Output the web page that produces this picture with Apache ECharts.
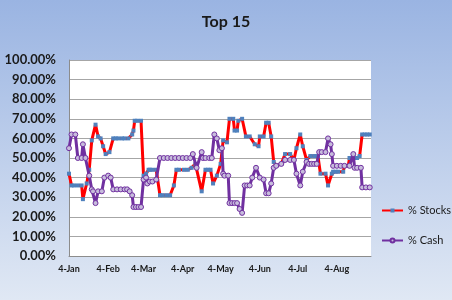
<!DOCTYPE html>
<html>
<head>
<meta charset="utf-8">
<script src="https://cdn.jsdelivr.net/npm/echarts@6/dist/echarts.min.js"></script>
<style>
html,body{margin:0;padding:0;width:452px;height:300px;overflow:hidden;}
#c{width:452px;height:300px;}
</style>
</head>
<body>
<div id="c"></div>
<script>
// ---- data ----
const tickDates  = ['1/4','2/4','3/4','4/4','5/4','6/4','7/4','8/4'];
const tickLabels = ['4-Jan','4-Feb','4-Mar','4-Apr','4-May','4-Jun','4-Jul','4-Aug'];

const stockDates = ['1/4','1/6','1/8','1/11','1/14','1/15','1/18','1/20','1/22','1/25','1/27','1/29','1/31','2/2','2/5','2/8','2/10','2/12','2/15','2/17','2/20','2/23','2/24','2/25','2/27','3/2','3/4','3/6','3/8','3/9','3/11','3/14','3/17','3/19','3/22','3/25','3/28','3/30','4/1','4/5','4/8','4/11','4/14','4/19','4/22','4/24','4/26','4/28','5/1','5/4','5/6','5/9','5/11','5/14','5/15','5/17','5/18','5/21','5/24','5/27','5/31','6/3','6/4','6/7','6/9','6/11','6/13','6/15','6/17','6/21','6/24','6/28','7/1','7/3','7/6','7/8','7/11','7/14','7/17','7/20','7/22','7/26','7/28','7/31','8/1','8/3','8/5','8/9','8/10','8/13','8/14','8/16','8/18','8/20','8/22','8/24','8/26','8/28','8/30'];
const stockVals  = [42,36,36,36,36,29,37,44,59,67,61,60,56,52,53,60,60,60,60,60,60,62,64,69,69,69,41,42,44,44,44,44,31,31,31,31,36,44,44,44,44,45,47,33,44,44,44,37,41,47,59,58,70,70,64,64,69,70,61,61,57,56,61,61,68,68,61,48,46,47,52,52,49,55,62,56,49,51,51,51,42,42,36,42,43,43,43,43,46,46,50,50,50,50,51,62,62,62,62];

const cashDates = ['1/4','1/6','1/9','1/11','1/14','1/15','1/17','1/20','1/22','1/23','1/25','1/27','1/30','2/1','2/4','2/6','2/8','2/11','2/14','2/17','2/19','2/21','2/23','2/24','2/26','2/28','3/2','3/4','3/6','3/7','3/9','3/11','3/14','3/17','3/20','3/23','3/26','3/29','4/1','4/4','4/7','4/10','4/12','4/15','4/19','4/20','4/22','4/25','4/27','4/29','5/1','5/3','5/5','5/6','5/7','5/10','5/11','5/13','5/15','5/17','5/19','5/21','5/23','5/25','5/27','5/29','6/1','6/4','6/7','6/9','6/11','6/13','6/15','6/17','6/21','6/24','6/28','7/1','7/3','7/6','7/8','7/11','7/13','7/15','7/17','7/19','7/21','7/23','7/26','7/28','7/30','7/31','8/1','8/4','8/7','8/10','8/14','8/17','8/18','8/20','8/23','8/24','8/27','8/30'];
const cashVals  = [55,62,62,50,50,57,50,41,34,33,27,33,33,40,41,40,34,34,34,34,34,33,31,25,25,25,25,39,40,37,38,38,39,50,50,50,50,50,50,50,50,50,52,45,53,50,50,50,50,62,60,54,55,42,41,41,27,27,27,27,24,22,36,36,36,40,45,40,39,32,32,37,45,46,47,49,49,49,42,36,43,48,47,47,47,47,53,53,53,60,57,52,46,46,46,46,46,52,45,45,45,35,35,35];

const YEAR = 2010, START = '1/4', END = '8/31';
// ---- helpers ----
function dayOff(s){
  const p = s.split('/').map(Number);
  const q = START.split('/').map(Number);
  return Math.round((Date.UTC(YEAR,p[0]-1,p[1]) - Date.UTC(YEAR,q[0]-1,q[1]))/864e5);
}
const tickOffsets = tickDates.map(dayOff);
const stockData = stockDates.map((d,i)=>[dayOff(d), stockVals[i]]);
const cashData  = cashDates.map((d,i)=>[dayOff(d), cashVals[i]]);

const FONT = 'Lato';
const chart = echarts.init(document.getElementById('c'), null, {renderer:'canvas'});
chart.setOption({
  animation:false,
  backgroundColor:{type:'linear',x:0,y:0,x2:0,y2:1,colorStops:[{offset:0,color:'#9ab4e2'},{offset:1,color:'#e0e8f4'}]},
  title:{text:'Top 15',left:'center',top:9,textStyle:{fontFamily:FONT,fontSize:16,fontWeight:'bold',color:'#1a1a1a'}},
  legend:{orient:'vertical',left:376,top:200,itemWidth:21,itemHeight:5,itemGap:19,
    textStyle:{fontFamily:FONT,fontSize:11,color:'#1a1a1a'},
    data:['% Stocks','% Cash']},
  grid:{left:69,top:60,width:302,height:196,show:true,backgroundColor:'#ffffff',borderWidth:0},
  xAxis:{type:'value',min:0,max:dayOff(END),
    axisLine:{show:true,lineStyle:{color:'#8c8c8c',width:1}},
    axisTick:{show:false},
    splitLine:{show:false},
    axisLabel:{customValues:tickOffsets,margin:9,fontFamily:FONT,fontSize:9,fontWeight:'bold',color:'#1a1a1a',
      formatter:function(v){const i=tickOffsets.indexOf(v);return i>=0?tickLabels[i]:'';}}
  },
  yAxis:{type:'value',min:0,max:100,interval:10,
    axisLine:{show:true,lineStyle:{color:'#8c8c8c',width:1}},
    axisTick:{show:false},
    splitLine:{show:true,lineStyle:{color:'#a6a6a6',width:1}},
    axisLabel:{margin:13,fontFamily:FONT,fontSize:13,fontWeight:'bold',color:'#1a1a1a',
      formatter:function(v){return v.toFixed(2)+'%';}}
  },
  series:[
    {name:'% Stocks',type:'line',data:stockData,symbol:'rect',symbolSize:4,showAllSymbol:true,
     itemStyle:{color:'#4f81bd'},lineStyle:{color:'#ff0000',width:3},emphasis:{disabled:true},z:2},
    {name:'% Cash',type:'line',data:cashData,symbol:'circle',symbolSize:5,showAllSymbol:true,
     itemStyle:{color:'#c7bcdc',borderColor:'#7030a0',borderWidth:1},lineStyle:{color:'#7030a0',width:3},emphasis:{disabled:true},z:3}
  ]
});
</script>
</body>
</html>
